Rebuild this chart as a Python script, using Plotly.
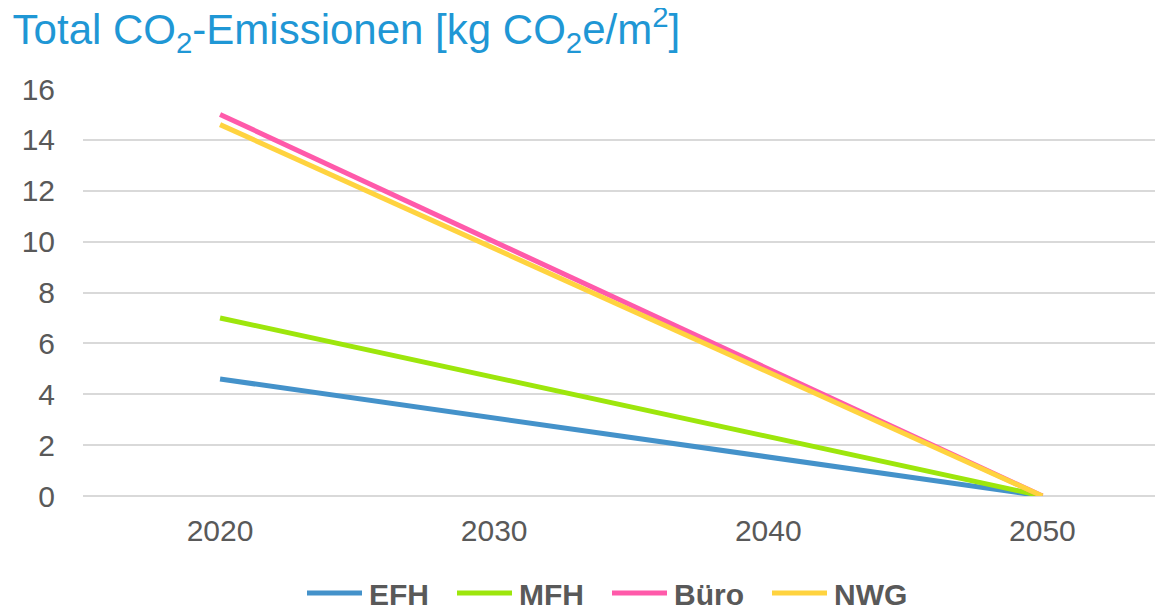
import plotly.graph_objects as go

years = ["2020", "2030", "2040", "2050"]
efh = [4.6, None, None, 0.0]
mfh = [7.0, None, None, 0.0]
buero = [15.0, None, None, 0.0]
nwg = [14.6, None, None, 0.0]

series_names = ["EFH", "MFH", "Büro", "NWG"]
series_values = [efh, mfh, buero, nwg]
series_colors = ["#4492CA", "#9DE60C", "#FF5AAA", "#FFD33F"]

FONT = "Liberation Sans, Arial, sans-serif"
W, H = 1155, 600
ML, MR, MT, MB = 75, 0, 81, 112
PW, PH = W - ML - MR, H - MT - MB

fig = go.Figure()
for name, vals, col in zip(series_names, series_values, series_colors):
    fig.add_trace(go.Scatter(
        x=years, y=vals, name=name, mode="lines", connectgaps=True,
        line=dict(color=col, width=5), showlegend=False,
    ))

# custom legend (line sample + bold label), positioned in pixels
legend_line_x0 = [299, 449, 604, 764]
legend_line_len = 55
legend_text_gap = 5
legend_y_px = 585


def px_to_paper_x(px):
    return (px - ML) / PW


def px_to_paper_y(py):
    return (H - MB - py) / PH


shapes = []
annotations = []
for name, col, x0 in zip(series_names, series_colors, legend_line_x0):
    shapes.append(dict(
        type="line", xref="paper", yref="paper",
        x0=px_to_paper_x(x0), x1=px_to_paper_x(x0 + legend_line_len),
        y0=px_to_paper_y(legend_y_px), y1=px_to_paper_y(legend_y_px),
        line=dict(color=col, width=5),
    ))
    annotations.append(dict(
        text=name, xref="paper", yref="paper", showarrow=False,
        x=px_to_paper_x(x0 + legend_line_len + legend_text_gap),
        y=px_to_paper_y(legend_y_px + 1), xanchor="left", yanchor="middle",
        font=dict(size=30, color="#595959", family=FONT, weight="bold"),
    ))

fig.update_layout(
    width=W, height=H,
    paper_bgcolor="white", plot_bgcolor="white",
    margin=dict(l=ML, r=MR, t=MT, b=MB),
    font=dict(family=FONT, color="#595959"),
    title=dict(
        text="Total CO<sub>2</sub>-Emissionen [kg CO<sub>2</sub>e/m<sup>2</sup>]",
        font=dict(size=42, color="#1F97D5", family=FONT),
        x=0.004, xref="container", xanchor="left",
        y=0.964, yref="container", yanchor="middle",
    ),
    showlegend=False,
    shapes=shapes,
    annotations=annotations,
)

fig.update_xaxes(
    type="category", categoryorder="array", categoryarray=years,
    range=[-0.5, 3.44], showgrid=False, zeroline=False, showline=False,
    ticks="", tickfont=dict(size=30, color="#595959"), ticklabelstandoff=14,
)
fig.update_yaxes(
    range=[0, 16], dtick=2, showgrid=True, gridcolor="#D9D9D9", gridwidth=1.5,
    zeroline=True, zerolinecolor="#D9D9D9", zerolinewidth=1.5, showline=False,
    ticks="", tickfont=dict(size=30, color="#595959"), ticklabelstandoff=27,
)

fig.write_html("out.html")
